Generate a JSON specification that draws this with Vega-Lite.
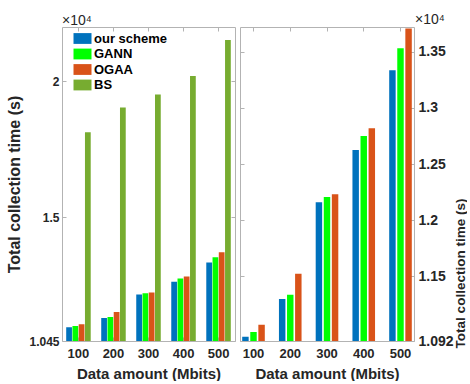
{
  "$schema": "https://vega.github.io/schema/vega-lite/v6.json",
  "padding": {"left": 6, "top": 12, "right": 0, "bottom": 0},
  "config": {
    "font": "Liberation Sans",
    "view": {"stroke": null},
    "axis": {
      "domainColor": "#b3b3b3", "tickColor": "#b3b3b3", "tickSize": -4,
      "labelColor": "#262626", "titleColor": "#262626",
      "labelFontWeight": "bold", "titleFontWeight": "bold",
      "labelFontSize": 13, "titleFontSize": 15, "grid": false
    },
    "concat": {"spacing": 3}
  },
  "datasets": {
    "times": [
      {"mbits": "100", "scheme": "our scheme", "time": 10958},
      {"mbits": "100", "scheme": "GANN", "time": 11000},
      {"mbits": "100", "scheme": "OGAA", "time": 11066},
      {"mbits": "100", "scheme": "BS", "time": 18125},
      {"mbits": "200", "scheme": "our scheme", "time": 11295},
      {"mbits": "200", "scheme": "GANN", "time": 11333},
      {"mbits": "200", "scheme": "OGAA", "time": 11521},
      {"mbits": "200", "scheme": "BS", "time": 19040},
      {"mbits": "300", "scheme": "our scheme", "time": 12158},
      {"mbits": "300", "scheme": "GANN", "time": 12206},
      {"mbits": "300", "scheme": "OGAA", "time": 12230},
      {"mbits": "300", "scheme": "BS", "time": 19520},
      {"mbits": "400", "scheme": "our scheme", "time": 12625},
      {"mbits": "400", "scheme": "GANN", "time": 12750},
      {"mbits": "400", "scheme": "OGAA", "time": 12819},
      {"mbits": "400", "scheme": "BS", "time": 20195},
      {"mbits": "500", "scheme": "our scheme", "time": 13337},
      {"mbits": "500", "scheme": "GANN", "time": 13534},
      {"mbits": "500", "scheme": "OGAA", "time": 13710},
      {"mbits": "500", "scheme": "BS", "time": 21520}
    ]
  },
  "data": {"name": "times"},
  "hconcat": [
    {
      "width": 173, "height": 314,
      "title": {"text": "×10⁴", "anchor": "start", "frame": "group", "offset": -1, "fontSize": 14, "fontWeight": "normal", "color": "#262626"},
      "layer": [
        {
          "mark": {"type": "bar", "clip": true},
          "encoding": {
            "x": {"field": "mbits", "type": "ordinal", "scale": {"paddingInner": 0.3, "paddingOuter": 0.12},
                  "axis": {"orient": "bottom", "title": "Data amount (Mbits)", "labelAngle": 0, "labelPadding": 10, "titlePadding": 6}},
            "xOffset": {"field": "scheme", "sort": ["our scheme", "GANN", "OGAA", "BS"], "scale": {"paddingInner": 0.08}},
            "y": {"field": "time", "type": "quantitative", "scale": {"domain": [10450, 22000], "zero": false, "nice": false},
                  "axis": {"orient": "left", "values": [10450, 15000, 20000], "labelExpr": "format(datum.value/10000, '.4~f')", "title": "Total collection time (s)", "titleFontSize": 16, "labelFontSize": 12, "labelPadding": 7, "titlePadding": 6}},
            "color": {"field": "scheme", "type": "nominal",
                      "scale": {"domain": ["our scheme", "GANN", "OGAA", "BS"], "range": ["#0072BD", "#00FF00", "#D95319", "#77AC30"]},
                      "legend": {"orient": "none", "legendX": 14, "legendY": 5, "title": null, "symbolType": "M-1.5,-0.9H1.5V0.9H-1.5Z", "symbolSize": 144, "labelFontSize": 13, "labelFontWeight": "bold", "labelColor": "#000000", "rowPadding": 1.5, "labelOffset": 5, "symbolStrokeWidth": 0, "padding": 0}}
          }
        },
        {
          "mark": {"type": "bar", "opacity": 0, "clip": true},
          "encoding": {
            "x": {"field": "mbits", "type": "ordinal", "axis": {"orient": "top", "labels": false, "title": null}},
            "y": {"field": "time", "type": "quantitative", "axis": {"orient": "right", "labels": false, "title": null, "values": [10450, 15000, 20000]}}
          }
        }
      ],
      "resolve": {"axis": {"x": "independent", "y": "independent"}}
    },
    {
      "width": 174, "height": 314,
      "transform": [{"filter": "datum.scheme !== 'BS'"}],
      "title": {"text": "×10⁴", "anchor": "start", "frame": "group", "offset": 0, "dx": 175, "fontSize": 14, "fontWeight": "normal", "color": "#262626"},
      "layer": [
        {
          "mark": {"type": "bar", "clip": true},
          "encoding": {
            "x": {"field": "mbits", "type": "ordinal", "scale": {"paddingInner": 0.385, "paddingOuter": 0.06},
                  "axis": {"orient": "bottom", "title": "Data amount (Mbits)", "labelAngle": 0, "labelPadding": 10, "titlePadding": 6}},
            "xOffset": {"field": "scheme", "sort": ["our scheme", "GANN", "OGAA"], "scale": {"paddingInner": 0.2}},
            "y": {"field": "time", "type": "quantitative", "scale": {"domain": [10920, 13723], "zero": false, "nice": false},
                  "axis": {"orient": "right", "values": [10920, 11500, 12000, 12500, 13000, 13500], "labelExpr": "format(datum.value/10000, '.4~f')", "title": "Total collection time (s)", "titleFontSize": 13.5, "titleAngle": 270, "labelFontSize": 14, "labelPadding": 8, "titlePadding": 14, "titleY": 246}},
            "color": {"field": "scheme", "type": "nominal",
                      "scale": {"domain": ["our scheme", "GANN", "OGAA"], "range": ["#0072BD", "#00FF00", "#D95319"]},
                      "legend": null}
          }
        },
        {
          "mark": {"type": "bar", "opacity": 0, "clip": true},
          "encoding": {
            "x": {"field": "mbits", "type": "ordinal", "axis": {"orient": "top", "labels": false, "title": null}},
            "y": {"field": "time", "type": "quantitative", "axis": {"orient": "left", "labels": false, "title": null, "values": [10920, 11500, 12000, 12500, 13000, 13500]}}
          }
        }
      ],
      "resolve": {"axis": {"x": "independent", "y": "independent"}}
    }
  ],
  "resolve": {"scale": {"x": "independent", "y": "independent", "color": "independent", "xOffset": "independent"}}
}
